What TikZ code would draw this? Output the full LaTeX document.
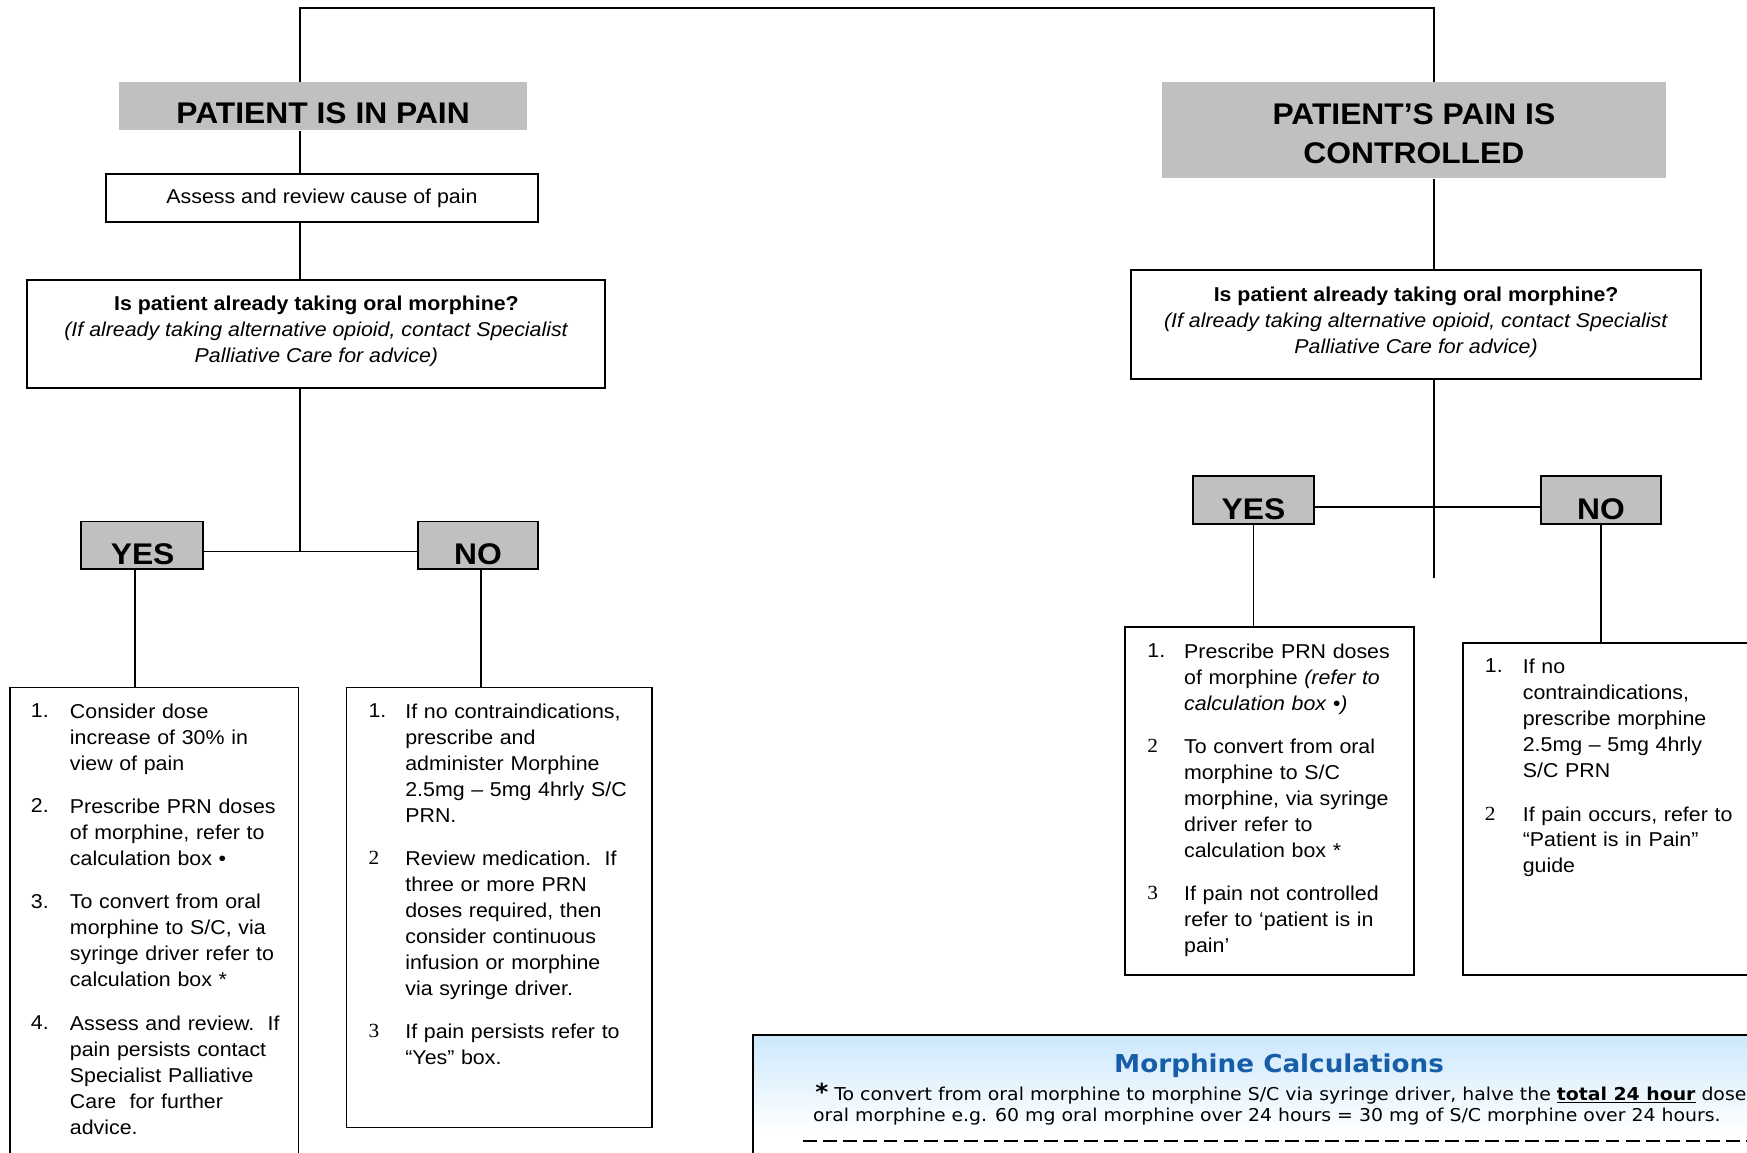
\documentclass[tikz,border=0pt]{standalone}
\usepackage{fontspec}
\setmainfont{Liberation Sans}[FakeStretch=1.065]
\newfontfamily\sernum{Liberation Serif}[FakeStretch=1.065]
\newfontfamily\verd{DejaVu Sans}[FakeStretch=1.065]
\newcommand\bodyf{\fontsize{18}{23.3}\selectfont}
\newcommand\titlef{\fontsize{26.8}{35}\selectfont\bfseries}
\newcommand\stb{\rule{0pt}{16pt}}
\newcommand\stt{\rule{0pt}{22pt}}
\definecolor{boxgray}{RGB}{192,192,192}
\definecolor{calcblue}{RGB}{204,232,252}
\definecolor{titleblue}{RGB}{22,94,168}
\begin{document}
\begin{tikzpicture}[x=1pt,y=-1pt,line width=1.6pt,
  banner/.style={fill=boxgray,draw=none,inner sep=0,rectangle},
  plainbox/.style={draw=black,fill=white,inner sep=0,rectangle},
  answer/.style={draw=black,fill=boxgray,inner sep=0,rectangle},
  conn/.style={draw=black,line width=1.6pt},
  lbl/.style={inner sep=0,font=\bodyf},
  biglbl/.style={inner sep=0,font=\titlef},
  itemtxt/.style={inner sep=0,anchor=north west,align=left,text width=250pt,font=\bodyf},
  num/.style={inner sep=0,anchor=base west,font=\bodyf},
  calcbox/.style={draw=black,inner sep=0,rectangle,top color=calcblue,bottom color=white,middle color=white}]
\useasboundingbox (0,0) rectangle (1568,1034);

% ---------- boxes ----------
\node[banner,minimum width=366pt,minimum height=43pt] (gL) at (290,95.5) {};
\node[banner,minimum width=452pt,minimum height=86pt] (gR) at (1269,117) {};
\node[plainbox,minimum width=388pt,minimum height=43pt] (aL) at (289,177.5) {};
\node[plainbox,minimum width=519pt,minimum height=97pt] (qL) at (283.5,299.5) {};
\node[plainbox,minimum width=512pt,minimum height=98pt] (qR) at (1271,291) {};
\node[answer,minimum width=109pt,minimum height=43pt] (yL) at (127.5,489.5) {};
\node[answer,minimum width=108pt,minimum height=43pt] (nL) at (429,489.5) {};
\node[answer,minimum width=108pt,minimum height=43pt] (yR) at (1125,448.5) {};
\node[answer,minimum width=108pt,minimum height=43pt] (nR) at (1437,448.5) {};
\node[plainbox,minimum width=259pt,minimum height=443pt] (lY) at (138.5,838.5) {};
\node[plainbox,minimum width=274pt,minimum height=395pt] (lN) at (448,814.5) {};
\node[plainbox,minimum width=259pt,minimum height=312pt] (rY) at (1139.5,719) {};
\node[plainbox,minimum width=327pt,minimum height=298pt] (rN) at (1476.5,726) {};
\node[calcbox,minimum width=944pt,minimum height=172pt] (calc) at (1148,1015) {};

% ---------- connectors ----------
\coordinate (tl) at (269,7);
\coordinate (tr) at (1287,7);
\coordinate (jL) at (269,495);
\coordinate (jR) at (1287,455);
\coordinate (rEnd) at (1287,519);
\coordinate (xyL) at (121,0);
\coordinate (xnL) at (432,0);
\coordinate (xyR) at (1125,0);
\coordinate (xnR) at (1437,0);
\draw[conn] (tl |- gL.north) -- (tl) -- (tr) -- (tr |- gR.north);
\draw[conn] (tl |- gL.south) -- (tl |- aL.north);
\draw[conn] (tl |- aL.south) -- (tl |- qL.north);
\draw[conn] (tl |- qL.south) -- (jL);
\draw[conn] (yL.east |- jL) -- (nL.west |- jL);
\draw[conn] (xyL |- yL.south) -- (xyL |- lY.north);
\draw[conn] (xnL |- nL.south) -- (xnL |- lN.north);
\draw[conn] (tr |- gR.south) -- (tr |- qR.north);
\draw[conn] (tr |- qR.south) -- (rEnd);
\draw[conn] (yR.east |- jR) -- (nR.west |- jR);
\draw[conn] (xyR |- yR.south) -- (xyR |- rY.north);
\draw[conn] (xnR |- nR.south) -- (xnR |- rN.north);

% ---------- headings ----------
\node[biglbl,anchor=base] (tgL) at (290,111) {PATIENT IS IN PAIN};
\node[biglbl,anchor=north,align=center] (tgR) at (1269,89) {\stt PATIENT’S PAIN IS\\CONTROLLED};
\node[lbl,anchor=base] (taL) at (289,183) {Assess and review cause of pain};
\node[lbl,anchor=north,align=center] (tqL) at (284,262) {\stb\textbf{Is patient already taking oral morphine?}\\\textit{(If already taking alternative opioid, contact Specialist}\\\textit{Palliative Care for advice)}};
\node[lbl,anchor=north,align=center] (tqR) at (1271,254) {\stb\textbf{Is patient already taking oral morphine?}\\\textit{(If already taking alternative opioid, contact Specialist}\\\textit{Palliative Care for advice)}};
\node[biglbl,anchor=base] (tyL) at (128,507) {YES};
\node[biglbl,anchor=base] (tnL) at (429,507) {NO};
\node[biglbl,anchor=base] (tyR) at (1125,466) {YES};
\node[biglbl,anchor=base] (tnR) at (1437,466) {NO};

% ---------- left YES list ----------
\node[num] (lyn1) at (27,644) {1.};
\node[itemtxt] (lyi1) at (62,628) {\stb Consider dose\\increase of 30\% in\\view of pain};
\node[num] (lyn2) at (27,729.5) {2.};
\node[itemtxt] (lyi2) at (62,713.5) {\stb Prescribe PRN doses\\of morphine, refer to\\calculation box •};
\node[num] (lyn3) at (27,815) {3.};
\node[itemtxt] (lyi3) at (62,799) {\stb To convert from oral\\morphine to S/C, via\\syringe driver refer to\\calculation box *};
\node[num] (lyn4) at (27,923.8) {4.};
\node[itemtxt] (lyi4) at (62,907.8) {\stb Assess and review.\ \ If\\pain persists contact\\Specialist Palliative\\Care\ \ for further\\advice.};

% ---------- left NO list ----------
\node[num] (lnn1) at (330,644) {1.};
\node[itemtxt] (lni1) at (363,628) {\stb If no contraindications,\\prescribe and\\administer Morphine\\2.5mg – 5mg 4hrly S/C\\PRN.};
\node[num] (lnn2) at (330,776.1) {\sernum 2};
\node[itemtxt] (lni2) at (363,760.1) {\stb Review medication.\ \ If\\three or more PRN\\doses required, then\\consider continuous\\infusion or morphine\\via syringe driver.};
\node[num] (lnn3) at (330,931.5) {\sernum 3};
\node[itemtxt] (lni3) at (363,915.5) {\stb If pain persists refer to\\“Yes” box.};

% ---------- right YES list ----------
\node[num] (ryn1) at (1029,590) {1.};
\node[itemtxt] (ryi1) at (1062,574) {\stb Prescribe PRN doses\\of morphine \textit{(refer to}\\\textit{calculation box •)}};
\node[num] (ryn2) at (1029,675.5) {\sernum 2};
\node[itemtxt] (ryi2) at (1062,659.5) {\stb To convert from oral\\morphine to S/C\\morphine, via syringe\\driver refer to\\calculation box *};
\node[num] (ryn3) at (1029,807.6) {\sernum 3};
\node[itemtxt] (ryi3) at (1062,791.6) {\stb If pain not controlled\\refer to ‘patient is in\\pain’};

% ---------- right NO list ----------
\node[num] (rnn1) at (1332,604) {1.};
\node[itemtxt] (rni1) at (1366,588) {\stb If no\\contraindications,\\prescribe morphine\\2.5mg – 5mg 4hrly\\S/C PRN};
\node[num] (rnn2) at (1332,736.1) {\sernum 2};
\node[itemtxt] (rni2) at (1366,720.1) {\stb If pain occurs, refer to\\“Patient is in Pain”\\guide};

% ---------- calculation box ----------
\node[inner sep=0,anchor=base,font=\verd\bfseries\fontsize{22.1}{26}\selectfont,text=titleblue] (ctitle) at (1148,963) {Morphine Calculations};
\node[inner sep=0,anchor=base west,font=\verd\fontsize{15.9}{19}\selectfont] (cl1) at (731,988) {{\bfseries\fontsize{21}{21}\selectfont *}\ To convert from oral morphine to morphine S/C via syringe driver, halve the \underline{\textbf{total 24 hour}} dose};
\node[inner sep=0,anchor=base west,font=\verd\fontsize{15.9}{19}\selectfont] (cl2) at (729,1006.5) {oral morphine e.g. 60 mg oral morphine over 24 hours = 30 mg of S/C morphine over 24 hours.};
\coordinate (dashA) at (721,1024);
\coordinate (dashB) at (1700,1024);
\draw[line width=1.9pt,dash pattern=on 12.5pt off 5.5pt] (dashA) -- (dashB);
\end{tikzpicture}
\end{document}
